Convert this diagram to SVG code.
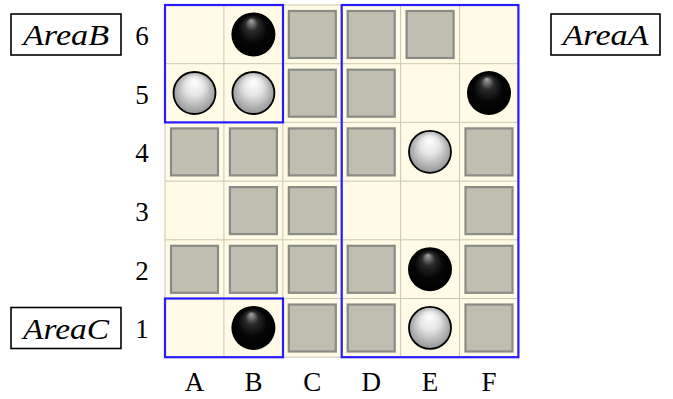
<svg xmlns="http://www.w3.org/2000/svg" width="673" height="399" viewBox="0 0 673 399">
<defs>
<style>
.lbl{font-family:"Liberation Serif","Times New Roman",serif;font-size:27px;fill:#000;text-anchor:middle}
.area{font-family:"Liberation Serif","Times New Roman",serif;font-style:italic;font-size:29px;fill:#000;text-anchor:middle}
.box{fill:#fff;stroke:#000;stroke-width:1.6}
.grid{stroke:#cbc7b3;stroke-width:1;fill:none}
.sq{fill:#bfbeb1;stroke:#8a8a86;stroke-width:2.2}
.blue{fill:none;stroke:#2a1aff;stroke-width:2.2}
.bk{fill:url(#gb)}
.wh{fill:url(#gw);stroke:#000;stroke-width:1.8}
</style>
<radialGradient id="gb" cx="0.5" cy="0.5" r="0.5" fx="0.45" fy="0.18">
<stop offset="0" stop-color="#a8a8a8"/>
<stop offset="0.3" stop-color="#2a2a2a"/>
<stop offset="0.65" stop-color="#050505"/>
<stop offset="1" stop-color="#000"/>
</radialGradient>
<radialGradient id="gw" cx="0.5" cy="0.5" r="0.55" fx="0.5" fy="0.22">
<stop offset="0" stop-color="#fff"/>
<stop offset="0.4" stop-color="#e6e6e6"/>
<stop offset="1" stop-color="#8c8c8c"/>
</radialGradient>
<rect id="s" x="6" y="6" width="47" height="47" class="sq"/>
</defs>
<rect width="673" height="399" fill="#fff"/>
<g id="board">
<rect x="165" y="5" width="353.4" height="352.2" fill="#fffbe7"/>
<path class="grid" d="M223.9 5V357.2M282.8 5V357.2M341.7 5V357.2M400.6 5V357.2M459.5 5V357.2M165 63.7H518.4M165 122.4H518.4M165 181.1H518.4M165 239.8H518.4M165 298.5H518.4"/>
<path class="grid" d="M165 5V357.2M518.4 5V357.2M165 357.2H518.4M165 5H518.4"/>
</g>
<g id="walls">
<use href="#s" x="282.8" y="5"/><use href="#s" x="341.7" y="5"/><use href="#s" x="400.6" y="5"/>
<use href="#s" x="282.8" y="63.7"/><use href="#s" x="341.7" y="63.7"/>
<use href="#s" x="165" y="122.4"/><use href="#s" x="223.9" y="122.4"/><use href="#s" x="282.8" y="122.4"/><use href="#s" x="341.7" y="122.4"/><use href="#s" x="459.5" y="122.4"/>
<use href="#s" x="223.9" y="181.1"/><use href="#s" x="282.8" y="181.1"/><use href="#s" x="459.5" y="181.1"/>
<use href="#s" x="165" y="239.8"/><use href="#s" x="223.9" y="239.8"/><use href="#s" x="282.8" y="239.8"/><use href="#s" x="341.7" y="239.8"/><use href="#s" x="459.5" y="239.8"/>
<use href="#s" x="282.8" y="298.5"/><use href="#s" x="341.7" y="298.5"/><use href="#s" x="459.5" y="298.5"/>
</g>
<g id="stones">
<circle class="bk" cx="253.4" cy="34.4" r="22"/>
<circle class="wh" cx="194.5" cy="93" r="21"/>
<circle class="wh" cx="253.4" cy="93" r="21"/>
<circle class="bk" cx="489" cy="93" r="22"/>
<circle class="wh" cx="430" cy="151.8" r="21"/>
<circle class="bk" cx="430" cy="269.2" r="22"/>
<circle class="bk" cx="253.4" cy="327.9" r="22"/>
<circle class="wh" cx="430" cy="327.9" r="21"/>
</g>
<g id="regions">
<rect id="regionB" class="blue" x="165" y="5" width="118" height="117.4"/>
<rect id="regionA" class="blue" x="341.7" y="5" width="176.7" height="352.2"/>
<rect id="regionC" class="blue" x="165" y="298.5" width="118" height="58.7"/>
</g>
<g id="rowLabels">
<text class="lbl" x="142" y="45">6</text>
<text class="lbl" x="142" y="103.5">5</text>
<text class="lbl" x="142" y="162.2">4</text>
<text class="lbl" x="142" y="220.9">3</text>
<text class="lbl" x="142" y="279.6">2</text>
<text class="lbl" x="142" y="338.3">1</text>
</g>
<g id="colLabels">
<text class="lbl" x="194.5" y="391">A</text>
<text class="lbl" x="253.4" y="391">B</text>
<text class="lbl" x="312.3" y="391">C</text>
<text class="lbl" x="371.2" y="391">D</text>
<text class="lbl" x="430" y="391">E</text>
<text class="lbl" x="489" y="391">F</text>
</g>
<g id="areaB">
<rect class="box" x="11" y="14" width="110" height="41"/>
<text class="area" x="66" y="45" textLength="86" lengthAdjust="spacingAndGlyphs">AreaB</text>
</g>
<g id="areaA">
<rect class="box" x="551" y="14" width="109" height="41"/>
<text class="area" x="605.5" y="45" textLength="86" lengthAdjust="spacingAndGlyphs">AreaA</text>
</g>
<g id="areaC">
<rect class="box" x="11" y="307.5" width="110" height="41"/>
<text class="area" x="66" y="338.5" textLength="86" lengthAdjust="spacingAndGlyphs">AreaC</text>
</g>
</svg>
